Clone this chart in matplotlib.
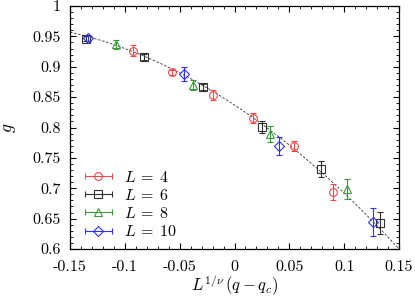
import numpy as np
import matplotlib
matplotlib.use("Agg")
import matplotlib.pyplot as plt
from matplotlib.ticker import MultipleLocator
from matplotlib.legend_handler import HandlerErrorbar
from matplotlib.container import ErrorbarContainer

plt.rcParams['font.family'] = ['cmr10', 'DejaVu Serif']
plt.rcParams['mathtext.fontset'] = 'cm'
plt.rcParams['axes.unicode_minus'] = False
plt.rcParams['axes.formatter.use_mathtext'] = True

# data
x_L4 = [-0.0926, -0.057, -0.020, 0.017, 0.054, 0.090]
g_L4 = [0.926, 0.891, 0.854, 0.816, 0.770, 0.694]
e_L4 = [0.009, 0.004, 0.008, 0.008, 0.008, 0.013]

x_L6 = [-0.135, -0.0825, -0.029, 0.025, 0.079, 0.1326]
g_L6 = [0.946, 0.916, 0.867, 0.801, 0.732, 0.643]
e_L6 = [0.004, 0.005, 0.005, 0.010, 0.013, 0.018]

x_L8 = [-0.108, -0.038, 0.032, 0.103]
g_L8 = [0.937, 0.870, 0.789, 0.699]
e_L8 = [0.0075, 0.008, 0.013, 0.017]

x_L10 = [-0.1336, -0.046, 0.0405, 0.126]
g_L10 = [0.947, 0.888, 0.770, 0.644]
e_L10 = [0.005, 0.011, 0.015, 0.023]

# quadratic fit curve g = a + b x + c x^2
fit_coef = [0.837, -1.19, -2.6]

series = [
    (x_L4, g_L4, e_L4, 'o', '#f04848', r'$L\:=\:4$'),
    (x_L6, g_L6, e_L6, 's', '#303030', r'$L\:=\:6$'),
    (x_L8, g_L8, e_L8, '^', '#3a9a3a', r'$L\:=\:8$'),
    (x_L10, g_L10, e_L10, 'D', '#3030f0', r'$L\:=\:10$'),
]

fig = plt.figure(figsize=(4.15, 3.01), dpi=100)
ax = fig.add_axes([70 / 415, 1 - 249 / 301, 329 / 415, 243 / 301])

xs = np.linspace(-0.15, 0.15, 200)
ax.plot(xs, fit_coef[0] + fit_coef[1] * xs + fit_coef[2] * xs ** 2,
        ls=(0, (3, 2)), color='#333333', lw=0.6, zorder=1)

handles = []
for x, g, e, m, c, lab in series:
    ms = 5.6 if m != 'D' else 4.6
    ax.errorbar(x, g, yerr=e, fmt=m, mfc='none', mec=c, ecolor=c, ms=ms,
                mew=0.8, elinewidth=0.8, capsize=2.0, capthick=0.8, zorder=3)
    # legend entry: horizontal bar with caps, marker in the middle
    h = ax.errorbar([np.nan], [np.nan], xerr=[1], fmt=m, mfc='none', mec=c,
                    ecolor=c, ms=ms, mew=0.8, elinewidth=0.8, capsize=2.5,
                    capthick=0.8, label=lab)
    handles.append(h)

ax.set_xlim(-0.15, 0.15)
ax.set_ylim(0.6, 1.0)
ax.xaxis.set_major_locator(MultipleLocator(0.05))
ax.xaxis.set_minor_locator(MultipleLocator(0.01))
ax.yaxis.set_major_locator(MultipleLocator(0.05))
ax.yaxis.set_minor_locator(MultipleLocator(0.01))

def fmt(v, pos):
    s = '%.2f' % v
    s = s.rstrip('0').rstrip('.')
    if s in ('-0', ''):
        s = '0'
    return s

ax.xaxis.set_major_formatter(fmt)
ax.yaxis.set_major_formatter(fmt)
ax.tick_params(which='both', direction='in', top=True, right=True, labelsize=11.5)
ax.tick_params(which='major', length=4.5, width=0.8)
ax.tick_params(which='minor', length=2.5, width=0.6)
ax.tick_params(axis='x', pad=8)
ax.tick_params(axis='y', pad=7)
for s in ax.spines.values():
    s.set_linewidth(0.9)

ax.set_xlabel(r'$L^{1/\nu}\,(q-q_c)$', fontsize=12, labelpad=0)
ax.set_ylabel(r'$g$', fontsize=12.5, labelpad=10)

ax.legend(handles=handles, loc='lower left', bbox_to_anchor=(0.045, 0.04),
          frameon=False, fontsize=11.5, handlelength=1.7, handletextpad=0.75,
          labelspacing=0.2, borderaxespad=0.0, borderpad=0.0,
          handler_map={ErrorbarContainer: HandlerErrorbar(xerr_size=0.85)})

fig.savefig('out.png', dpi=100)
